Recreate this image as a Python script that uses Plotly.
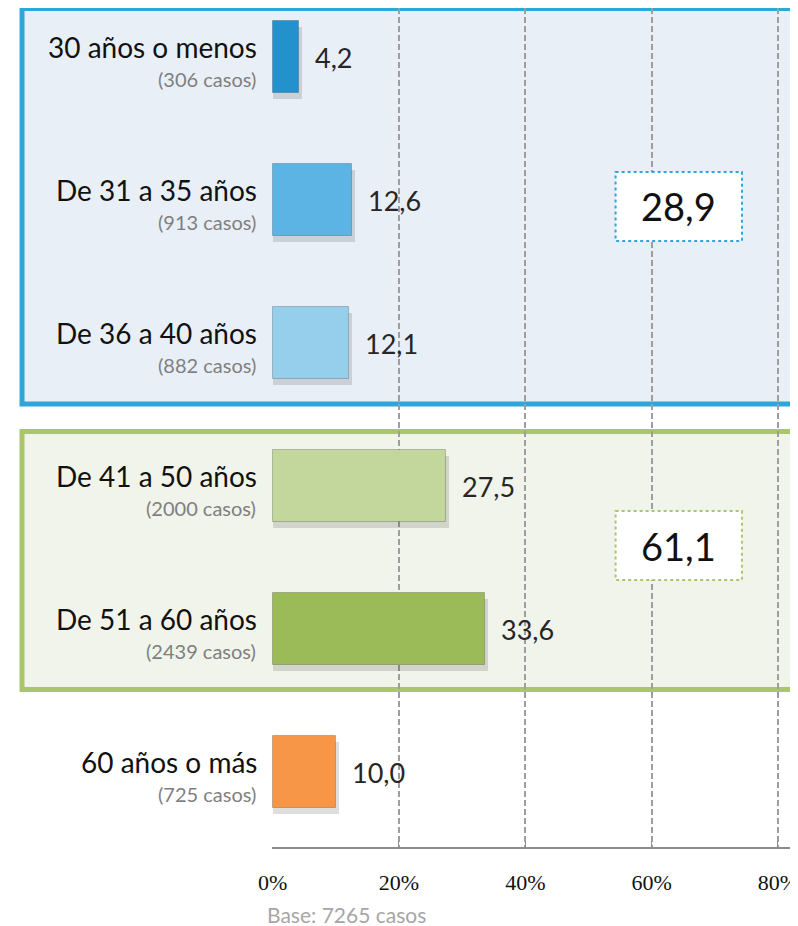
import plotly.graph_objects as go

# datos
grupos = ["30 años o menos", "De 31 a 35 años", "De 36 a 40 años",
          "De 41 a 50 años", "De 51 a 60 años", "60 años o más"]
casos = [306, 913, 882, 2000, 2439, 725]
porcentajes = [4.2, 12.6, 12.1, 27.5, 33.6, 10.0]
colores = ["#2391CB", "#5BB4E3", "#95CFEC", "#C3D69B", "#9BBB59", "#F79646"]
totales = ["28,9", "61,1"]
ticks_x = [0, 20, 40, 60, 80]
tick_labels = ["0%", "20%", "40%", "60%", "80%"]
base_txt = "Base: 7265 casos"

pos = list(range(len(grupos)))


def coma(v):
    return f"{v:.1f}".replace(".", ",")


fig = go.Figure()

# sombra suave de las barras
fig.add_trace(go.Bar(
    x=[v + 0.5 for v in porcentajes], y=[p + 0.04 for p in pos],
    orientation="h", width=0.5,
    marker=dict(color="rgba(0,0,0,0.13)", line=dict(width=0)),
    hoverinfo="skip", showlegend=False,
))
fig.add_trace(go.Bar(
    x=porcentajes, y=pos, orientation="h", width=0.5,
    marker=dict(color=colores, line=dict(color="rgba(0,0,0,0.2)", width=1)),
    showlegend=False,
))

for p, g, c, v in zip(pos, grupos, casos, porcentajes):
    fig.add_annotation(x=0, xref="paper", y=p, yref="y", xanchor="right",
                       xshift=-13, yshift=10, text=g, showarrow=False,
                       font=dict(family="Lato", size=28, color="#111111"))
    fig.add_annotation(x=0, xref="paper", y=p, yref="y", xanchor="right",
                       xshift=-14, yshift=-22, text=f"({c} casos)", showarrow=False,
                       font=dict(family="Lato", size=20, color="#7f7f7f"))
    fig.add_annotation(x=v, y=p, xanchor="left", xshift=14, text=coma(v),
                       showarrow=False,
                       font=dict(family="Lato", size=27, color="#262626"))

# cajas de grupos (fondo)
fig.add_shape(type="rect", xref="paper", yref="paper", x0=-0.478, x1=1.05,
              y0=0.528, y1=0.9994, layer="below",
              fillcolor="#E9EFF7", line=dict(color="#2EA6D9", width=5))
fig.add_shape(type="rect", xref="paper", yref="paper", x0=-0.478, x1=1.05,
              y0=0.1877, y1=0.4952, layer="below",
              fillcolor="#F1F4EA", line=dict(color="#A9C66C", width=5))

# totales
for yc, t, col in [(1.045, totales[0], "#2EA6D9"), (3.416, totales[1], "#A9C66C")]:
    fig.add_shape(type="rect", x0=54.3, x1=74.3, y0=yc - 0.241, y1=yc + 0.241,
                  fillcolor="white", line=dict(color=col, width=2, dash="dot"))
    fig.add_annotation(x=64.3, y=yc, text=t, showarrow=False,
                       font=dict(family="Lato", size=38, color="#111111"))

fig.add_annotation(x=-0.013, xref="paper", y=-0.0799, yref="paper",
                   xanchor="left", yanchor="middle", text=base_txt, showarrow=False,
                   font=dict(family="Lato", size=21, color="#A6A6A6"))

fig.update_layout(
    width=790, height=918,
    margin=dict(l=264, r=0, t=0, b=79),
    paper_bgcolor="white", plot_bgcolor="rgba(0,0,0,0)",
    barmode="overlay", bargap=0,
    xaxis=dict(range=[-0.1, 82.7], tickvals=ticks_x, ticktext=tick_labels,
               showgrid=True, gridcolor="#9E9E9E", griddash="6px,3px", gridwidth=1.5,
               zeroline=False, showline=True, linecolor="#8C8C8C", linewidth=2,
               ticks="inside", ticklen=6, tickcolor="#8C8C8C",
               ticklabelstandoff=15, ticklabeloverflow="allow",
               tickfont=dict(family="Liberation Serif", size=22, color="#111111")),
    yaxis=dict(range=[5.524, -0.343], showticklabels=False, showgrid=False,
               zeroline=False, showline=False),
)

fig.write_html("out.html")
